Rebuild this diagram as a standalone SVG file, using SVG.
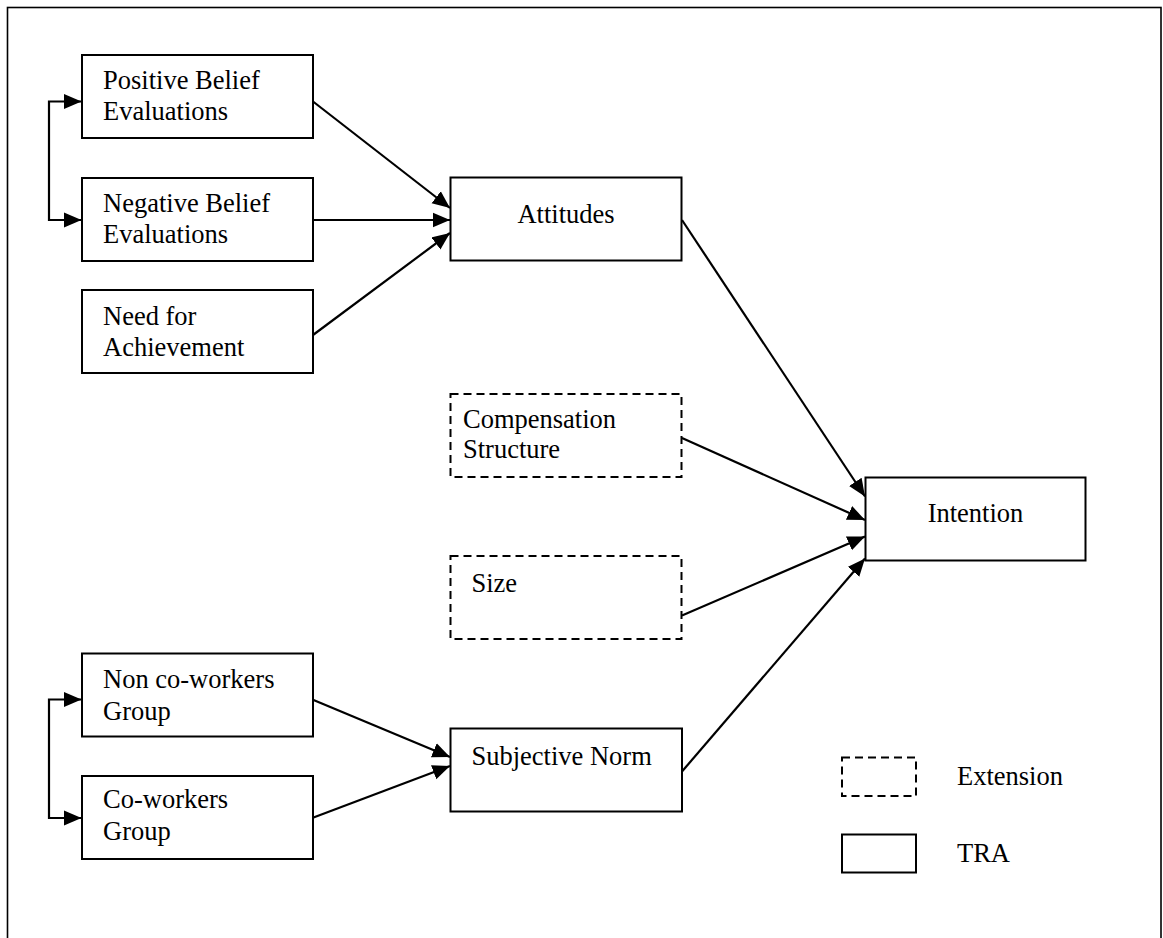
<svg xmlns="http://www.w3.org/2000/svg" width="1163" height="938" viewBox="0 0 1163 938">
  <style>
    .box { fill: #ffffff; stroke: #000000; stroke-width: 2; }
    .ext { fill: #ffffff; stroke: #000000; stroke-width: 2; stroke-dasharray: 8 5; }
    .lbl { font-family: "Liberation Serif", "Times New Roman", serif; font-size: 26.5px; fill: #000000; }
    .mid { text-anchor: middle; }
    .link { fill: none; stroke: #000000; stroke-width: 2.2; marker-end: url(#head); }
    .pair { marker-start: url(#head); }
  </style>
  <defs>
    <marker id="head" markerUnits="userSpaceOnUse" markerWidth="18" markerHeight="16" refX="17.5" refY="8" orient="auto-start-reverse" viewBox="0 0 18 16">
      <path d="M0,0.5 L17.5,8 L0,15.5 Z" fill="#000000"/>
    </marker>
  </defs>

  <rect width="1163" height="938" fill="#ffffff"/>
  <!-- frame (open at the bottom edge of the page) -->
  <rect x="7.5" y="7.5" width="1153.5" height="960" fill="none" stroke="#000000" stroke-width="1.6"/>

  <g id="connectors">
    <!-- correlation brackets -->
    <path class="link pair" d="M81.5,101.5 H49 V220 H81.5"/>
    <path class="link pair" d="M81.5,699.5 H49 V818 H81.5"/>
    <!-- belief antecedents to attitudes -->
    <line class="link" x1="313" y1="101.5" x2="450" y2="208"/>
    <line class="link" x1="313" y1="220" x2="450" y2="220"/>
    <line class="link" x1="313" y1="335" x2="450" y2="233"/>
    <!-- referent groups to subjective norm -->
    <line class="link" x1="313.5" y1="700" x2="450" y2="757"/>
    <line class="link" x1="313.5" y1="817.5" x2="450" y2="766"/>
    <!-- predictors of intention -->
    <line class="link" x1="682" y1="220" x2="865" y2="496.5"/>
    <line class="link" x1="682" y1="438" x2="865" y2="520"/>
    <line class="link" x1="682" y1="615.5" x2="865" y2="536.5"/>
    <line class="link" x1="682" y1="771.5" x2="865" y2="558.5"/>
  </g>

  <g id="positive-belief">
    <rect class="box" x="82" y="55" width="231" height="83"/>
    <text class="lbl" x="103" y="89">Positive Belief</text>
    <text class="lbl" x="103" y="120">Evaluations</text>
  </g>
  <g id="negative-belief">
    <rect class="box" x="82" y="178" width="231" height="83"/>
    <text class="lbl" x="103" y="212">Negative Belief</text>
    <text class="lbl" x="103" y="243">Evaluations</text>
  </g>
  <g id="need-achievement">
    <rect class="box" x="82" y="290" width="231" height="83"/>
    <text class="lbl" x="103" y="325">Need for</text>
    <text class="lbl" x="103" y="356">Achievement</text>
  </g>
  <g id="attitudes">
    <rect class="box" x="450.5" y="177.5" width="231" height="83"/>
    <text class="lbl mid" x="566" y="223">Attitudes</text>
  </g>
  <g id="compensation-structure">
    <rect class="ext" x="450.5" y="394" width="231" height="83"/>
    <text class="lbl" x="463" y="428">Compensation</text>
    <text class="lbl" x="463" y="458">Structure</text>
  </g>
  <g id="size">
    <rect class="ext" x="450.5" y="556" width="231" height="83"/>
    <text class="lbl" x="471.5" y="591.5">Size</text>
  </g>
  <g id="intention">
    <rect class="box" x="865.5" y="477.5" width="220" height="83"/>
    <text class="lbl mid" x="975.5" y="521.5">Intention</text>
  </g>
  <g id="non-coworkers">
    <rect class="box" x="82" y="653.5" width="231" height="83"/>
    <text class="lbl" x="103" y="688">Non co-workers</text>
    <text class="lbl" x="103" y="720">Group</text>
  </g>
  <g id="coworkers">
    <rect class="box" x="82" y="776" width="231" height="83"/>
    <text class="lbl" x="103" y="808">Co-workers</text>
    <text class="lbl" x="103" y="840">Group</text>
  </g>
  <g id="subjective-norm">
    <rect class="box" x="450.5" y="728.5" width="231.5" height="83"/>
    <text class="lbl" x="471.5" y="765">Subjective Norm</text>
  </g>

  <g id="legend">
    <rect class="ext" x="842" y="757.5" width="74" height="38.5"/>
    <text class="lbl" x="957" y="785">Extension</text>
    <rect class="box" x="842" y="834.5" width="74" height="38"/>
    <text class="lbl" x="957" y="861.5">TRA</text>
  </g>
</svg>
